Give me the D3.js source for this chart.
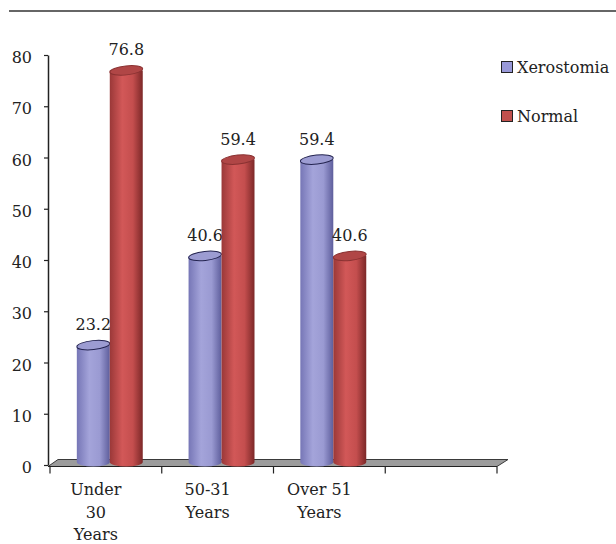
<!DOCTYPE html>
<html>
<head>
<meta charset="utf-8">
<script src="https://cdn.jsdelivr.net/npm/d3@7/dist/d3.min.js"></script>
<style>
  html, body { margin: 0; padding: 0; background: #fff; }
  svg { display: block; font-family: "DejaVu Serif", serif; }
</style>
</head>
<body>
<div id="chart"></div>
<script>
// Age groups and the share (%) of each status within them
const categories = ["Under 30 Years", "50-31 Years", "Over 51 Years"];
const categoryLines = [["Under", "30", "Years"], ["50-31", "Years"], ["Over 51", "Years"]];
const seriesNames = ["Xerostomia", "Normal"];
const xerostomia = [23.2, 40.6, 59.4];
const normal = [76.8, 59.4, 40.6];
const yTicks = [0, 10, 20, 30, 40, 50, 60, 70, 80];

const W = 616, H = 544;
const svg = d3.select("#chart").append("svg").attr("width", W).attr("height", H);

const colors = {
  Xerostomia: { stops: ["#7676b6", "#a4a4da", "#9a9ad2", "#5e5e9c"], top: "#9c9cd2", rim: "#23234f" },
  Normal:     { stops: ["#9a3838", "#d25858", "#c44e4e", "#7c2828"], top: "#b04646", rim: "#8a3232" }
};

// Gradients that give the columns their rounded look
const defs = svg.append("defs");
seriesNames.forEach(name => {
  const g = defs.append("linearGradient").attr("id", "grad-" + name)
    .attr("x1", "0").attr("x2", "1").attr("y1", "0").attr("y2", "0");
  const offs = [0, 0.38, 0.7, 1];
  colors[name].stops.forEach((c, i) => g.append("stop").attr("offset", offs[i]).attr("stop-color", c));
});

// Scales
const y = d3.scaleLinear().domain([0, 80]).range([465, 55]);
const xBand = d3.scaleBand().domain(d3.range(4)).range([50, 497]);
const bw = xBand.bandwidth();
const xInner = d3.scaleBand().domain(seriesNames).range([bw * 0.24, bw * 0.83]);
const cw = xInner.bandwidth();

// Header rule
svg.append("line").attr("x1", 9).attr("x2", W).attr("y1", 11).attr("y2", 11)
  .attr("stroke", "#333").attr("stroke-width", 1.5);

// Floor of the 3-D plot area
const depthX = 10, depthY = 7;
const floorFront = 466.5, floorLeft = 48, floorRight = xBand.range()[1];
svg.append("polygon")
  .attr("points", [
    [floorLeft, floorFront],
    [floorLeft + depthX, floorFront - depthY],
    [floorRight + depthX + 1, floorFront - depthY],
    [floorRight, floorFront]
  ].map(p => p.join(",")).join(" "))
  .attr("fill", "#9c9c9c").attr("stroke", "#3a3a3a").attr("stroke-width", 1);

// Y axis
const yAxis = svg.append("g").attr("transform", "translate(48,0)")
  .call(d3.axisLeft(y).tickValues(yTicks).tickSize(4).tickSizeOuter(0).tickPadding(12));
yAxis.select(".domain").attr("stroke", "#222").attr("stroke-width", 1.5);
yAxis.selectAll(".tick line").attr("stroke", "#222").attr("stroke-width", 1.2);
yAxis.selectAll(".tick text").attr("font-size", 16).attr("fill", "#222")
  .attr("font-family", "DejaVu Serif, serif").attr("dy", "0.48em");

// X axis line with ticks at band boundaries
svg.append("line").attr("x1", floorLeft).attr("x2", floorRight)
  .attr("y1", floorFront).attr("y2", floorFront).attr("stroke", "#222").attr("stroke-width", 1.2);
const boundaries = d3.range(4).map(i => xBand(i)).concat([xBand.range()[1]]);
svg.selectAll(".xtick").data(boundaries).join("line").attr("class", "xtick")
  .attr("x1", d => d).attr("x2", d => d)
  .attr("y1", floorFront).attr("y2", floorFront + 7)
  .attr("stroke", "#222").attr("stroke-width", 1.2);

// Category labels
categories.forEach((c, i) => {
  const t = svg.append("text").attr("text-anchor", "middle")
    .attr("font-size", 16).attr("fill", "#222")
    .attr("x", xBand(i) + bw / 2 - 10).attr("y", 495);
  categoryLines[i].forEach((line, j) => {
    t.append("tspan").attr("x", xBand(i) + bw / 2 - 10).attr("dy", j === 0 ? 0 : 22.5).text(line);
  });
});

// Cylinders
const bars = [];
categories.forEach((c, i) => {
  bars.push({ series: "Xerostomia", i, v: xerostomia[i] });
  bars.push({ series: "Normal", i, v: normal[i] });
});
const baseY = 462, rx = cw / 2, ry = 4.5;

const g = svg.append("g");
bars.forEach(b => {
  const x0 = xBand(b.i) + xInner(b.series);
  const cx = x0 + rx;
  const topY = y(b.v) - 1;
  g.append("path")
    .attr("d", `M${x0},${topY} L${x0},${baseY} A${rx},${ry} 0 0 0 ${x0 + cw},${baseY} L${x0 + cw},${topY} Z`)
    .attr("fill", `url(#grad-${b.series})`);
  g.append("ellipse")
    .attr("cx", cx).attr("cy", topY).attr("rx", rx).attr("ry", ry)
    .attr("transform", `rotate(-6,${cx},${topY})`)
    .attr("fill", colors[b.series].top)
    .attr("stroke", colors[b.series].rim).attr("stroke-width", 1);
  g.append("text").attr("text-anchor", "middle").attr("font-size", 16).attr("fill", "#222")
    .attr("x", cx).attr("y", y(b.v) - 16).text(b.v.toFixed(1));
});

// Legend
const legend = svg.append("g");
seriesNames.forEach((name, k) => {
  const ly = 61 + k * 49;
  legend.append("rect").attr("x", 501.5).attr("y", ly + 0.5).attr("width", 11).attr("height", 11)
    .attr("fill", name === "Xerostomia" ? "#9999d8" : "#c0504d")
    .attr("stroke", "#222").attr("stroke-width", 1);
  legend.append("text").attr("x", 517).attr("y", ly + 12).attr("font-size", 16).attr("fill", "#222").text(name);
});
</script>
</body>
</html>
